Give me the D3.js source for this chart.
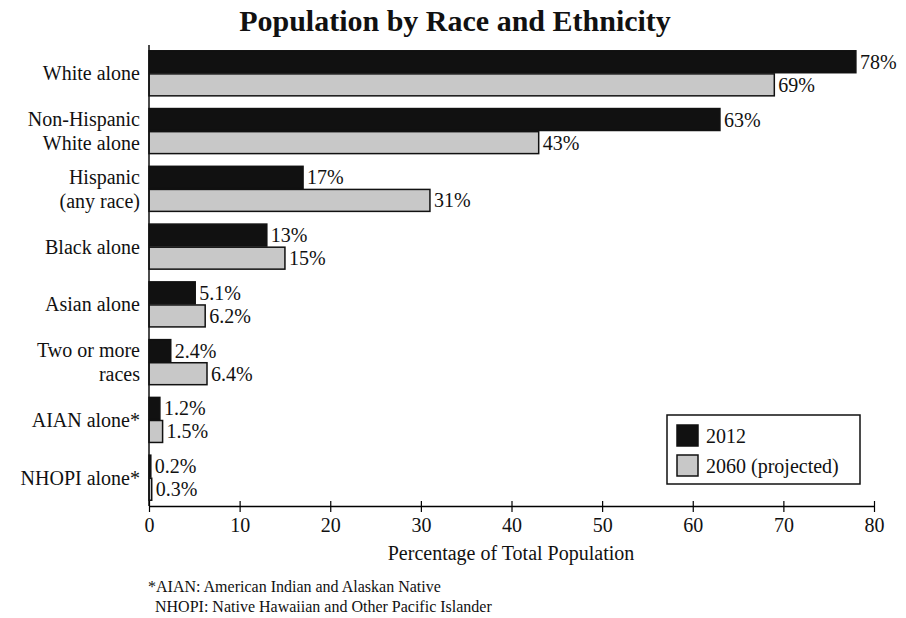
<!DOCTYPE html>
<html><head><meta charset="utf-8">
<script src="https://cdn.jsdelivr.net/npm/d3@7"></script>
<style>body{margin:0;background:#fff}text{font-family:"Liberation Serif","DejaVu Serif",serif;fill:#111}</style>
</head><body><svg id="c" width="906" height="618"></svg>
<script>
// Dati
var categorie = [["White alone"], ["Non-Hispanic", "White alone"], ["Hispanic", "(any race)"], ["Black alone"], ["Asian alone"], ["Two or more", "races"], ["AIAN alone*"], ["NHOPI alone*"]];
var valori2012 = [78, 63, 17, 13, 5.1, 2.4, 1.2, 0.2];
var valori2060 = [69, 43, 31, 15, 6.2, 6.4, 1.5, 0.3];
var etichette2012 = ["78%", "63%", "17%", "13%", "5.1%", "2.4%", "1.2%", "0.2%"];
var etichette2060 = ["69%", "43%", "31%", "15%", "6.2%", "6.4%", "1.5%", "0.3%"];
var serie = ["2012", "2060 (projected)"];
var colori = ["#111", "#c8c8c8"];
var ticks = [0, 10, 20, 30, 40, 50, 60, 70, 80];

var svg = d3.select("#c");
var x = d3.scaleLinear().domain([0, 80]).range([149, 874]);
var y = d3.scaleBand().domain(d3.range(categorie.length)).range([45, 506]).paddingInner(0.22).paddingOuter(0.1);
var sub = d3.scaleBand().domain([0, 1]).range([0, y.bandwidth()]).paddingInner(0.05);

svg.append("text").attr("x", 455).attr("y", 31).attr("text-anchor", "middle")
  .style("font-size", "30px").style("font-weight", "bold").text("Population by Race and Ethnicity");

[valori2012, valori2060].forEach(function(vals, s) {
  var labs = s == 0 ? etichette2012 : etichette2060;
  var g = svg.append("g");
  g.selectAll("rect").data(vals).enter().append("rect")
    .attr("x", x(0)).attr("y", function(d, i) { return y(i) + sub(s); })
    .attr("width", function(d) { return x(d) - x(0); }).attr("height", sub.bandwidth())
    .attr("fill", colori[s]).attr("stroke", "#111").attr("stroke-width", 1.5);
  g.selectAll("text").data(vals).enter().append("text")
    .attr("x", function(d) { return x(d) + 4; })
    .attr("y", function(d, i) { return y(i) + sub(s) + sub.bandwidth() / 2 + 7; })
    .style("font-size", "20px").text(function(d, i) { return labs[i]; });
});

// Etichette categorie
categorie.forEach(function(lines, i) {
  var cy = y(i) + y.bandwidth() / 2;
  var t = svg.append("text").attr("text-anchor", "end").style("font-size", "20px");
  lines.forEach(function(l, k) {
    t.append("tspan").attr("x", 140).attr("y", cy + 7 + (k - (lines.length - 1) / 2) * 24).text(l);
  });
});

// Assi
svg.append("line").attr("x1", 149).attr("x2", 149).attr("y1", 45).attr("y2", 506).attr("stroke", "#111").attr("stroke-width", 1.5);
var ax = svg.append("g").attr("transform", "translate(0,506)")
  .call(d3.axisBottom(x).tickValues(ticks).tickSizeInner(6).tickSizeOuter(0).tickPadding(6));
ax.select(".domain").attr("stroke-width", 1.5);
ax.selectAll(".tick line").attr("y1", -5).attr("stroke-width", 1.2);
ax.selectAll("text").style("font-size", "20px").style("font-family", "Liberation Serif, serif").attr("fill", "#111");
svg.append("text").attr("x", 511).attr("y", 560).attr("text-anchor", "middle").style("font-size", "20px").text("Percentage of Total Population");

// Legenda
var lg = svg.append("g");
lg.append("rect").attr("x", 667).attr("y", 415).attr("width", 193).attr("height", 69).attr("fill", "#fff").attr("stroke", "#111").attr("stroke-width", 1.5);
serie.forEach(function(s, i) {
  lg.append("rect").attr("x", 677).attr("y", 425 + i * 30).attr("width", 21).attr("height", 21).attr("fill", colori[i]).attr("stroke", "#111").attr("stroke-width", 1.5);
  lg.append("text").attr("x", 706).attr("y", 443 + i * 30).style("font-size", "20px").text(s);
});

// Note
svg.append("text").attr("x", 148).attr("y", 592).style("font-size", "16px").text("*AIAN: American Indian and Alaskan Native");
svg.append("text").attr("x", 155).attr("y", 612).style("font-size", "16px").text("NHOPI: Native Hawaiian and Other Pacific Islander");
</script></body></html>
